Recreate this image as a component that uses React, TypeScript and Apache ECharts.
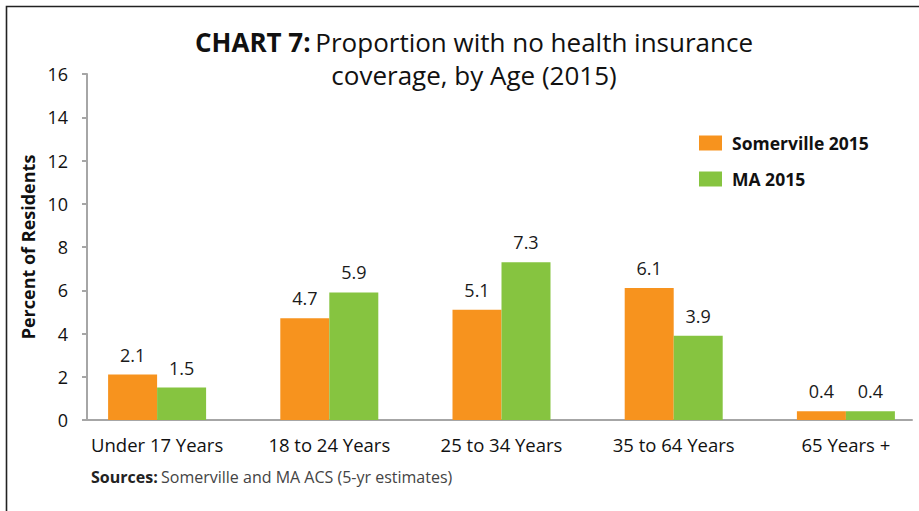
import React, { useEffect, useRef } from "react";
import * as echarts from "echarts";

const categories = ["Under 17 Years", "18 to 24 Years", "25 to 34 Years", "35 to 64 Years", "65 Years +"];
const somerville2015 = [2.1, 4.7, 5.1, 6.1, 0.4];
const ma2015 = [1.5, 5.9, 7.3, 3.9, 0.4];
const seriesNames = ["Somerville 2015", "MA 2015"];
const yTicks = { min: 0, max: 16, interval: 2 };

const FONT = "'Open Sans', 'Noto Sans', sans-serif";
const AXIS_COLOR = "#A6A6A6";

export default function App() {
  const ref = useRef<HTMLDivElement>(null);
  useEffect(() => {
    if (!ref.current) return;
    const chart = echarts.init(ref.current, undefined, { renderer: "svg" });
    const labelStyle = {
      show: true,
      position: "top" as const,
      distance: 11,
      fontSize: 18,
      color: "#1a1a1a",
      fontFamily: FONT,
    };
    const titleRich = {
      b: { fontFamily: FONT, fontSize: 26, fontWeight: "bold", color: "#111" },
      n: { fontFamily: FONT, fontSize: 26, fontWeight: "normal", color: "#111" },
    };
    chart.setOption({
      animation: false,
      backgroundColor: "#ffffff",
      textStyle: { fontFamily: FONT },
      title: [
        {
          left: 474,
          top: 29,
          textAlign: "center",
          padding: 0,
          text: "{b|CHART 7:} {n|Proportion with no health insurance}",
          textStyle: { rich: titleRich },
        },
        {
          left: 474,
          top: 62,
          textAlign: "center",
          padding: 0,
          text: "{n|coverage, by Age (2015)}",
          textStyle: { rich: titleRich },
        },
      ],
      legend: {
        orient: "vertical",
        left: 699,
        top: 134,
        itemWidth: 23,
        itemHeight: 15,
        itemGap: 18,
        padding: 0,
        icon: "rect",
        textStyle: { fontFamily: FONT, fontSize: 17.5, fontWeight: "bold", color: "#111", padding: [0, 0, 0, 5] },
        data: seriesNames,
      },
      grid: [
        { left: 87, top: 74, width: 825, height: 346, containLabel: false },
        { left: 71, top: 74, width: 861, height: 346, containLabel: false },
      ],
      xAxis: [
        {
          type: "value",
          gridIndex: 0,
          min: 0,
          max: 1,
          axisLine: { show: true, lineStyle: { color: AXIS_COLOR, width: 2 } },
          axisTick: { show: false },
          axisLabel: { show: false },
          splitLine: { show: false },
        },
        {
          type: "category",
          gridIndex: 1,
          data: categories,
          axisLine: { show: false },
          axisTick: { show: false },
          axisLabel: { fontFamily: FONT, fontSize: 18.5, color: "#111", margin: 15 },
          splitLine: { show: false },
        },
      ],
      yAxis: [
        {
          type: "value",
          gridIndex: 0,
          min: yTicks.min,
          max: yTicks.max,
          interval: yTicks.interval,
          name: "Percent of Residents",
          nameLocation: "middle",
          nameGap: 47,
          nameRotate: 90,
          nameTextStyle: { fontFamily: FONT, fontSize: 18, fontWeight: "bold", color: "#111" },
          axisLine: { show: true, lineStyle: { color: AXIS_COLOR, width: 2 } },
          axisTick: { show: true, length: 5, lineStyle: { color: AXIS_COLOR, width: 2 } },
          axisLabel: { fontFamily: FONT, fontSize: 18, color: "#111", margin: 19 },
          splitLine: { show: false },
        },
        {
          type: "value",
          gridIndex: 1,
          min: yTicks.min,
          max: yTicks.max,
          interval: yTicks.interval,
          show: false,
          splitLine: { show: false },
        },
      ],
      series: [
        {
          name: seriesNames[0],
          type: "bar",
          xAxisIndex: 1,
          yAxisIndex: 1,
          data: somerville2015,
          barWidth: 49,
          barGap: "0%",
          itemStyle: { color: "#F7931E" },
          label: labelStyle,
        },
        {
          name: seriesNames[1],
          type: "bar",
          xAxisIndex: 1,
          yAxisIndex: 1,
          data: ma2015,
          barWidth: 49,
          barGap: "0%",
          itemStyle: { color: "#86C440" },
          label: labelStyle,
        },
      ],
      graphic: [
        {
          type: "polyline",
          silent: true,
          shape: { points: [[6.5, 600], [6.5, 6.5], [1000, 6.5]] },
          style: { stroke: "#222", lineWidth: 1.6, fill: "none" },
        },
        {
          type: "text",
          left: 91,
          top: 469,
          style: {
            text: "{b|Sources:} {n|Somerville and MA ACS (5-yr estimates)}",
            rich: {
              b: { fontFamily: FONT, fontSize: 16, fontWeight: "bold", fill: "#222" },
              n: { fontFamily: FONT, fontSize: 16, fill: "#444" },
            },
          },
        },
      ],
    });
    return () => chart.dispose();
  }, []);
  return (
    <div style={{ position: "absolute", left: 0, top: 0, width: 919, height: 511, overflow: "hidden" }}>
      <div ref={ref} style={{ position: "absolute", left: 0, top: 0, width: 960, height: 511 }} />
    </div>
  );
}
